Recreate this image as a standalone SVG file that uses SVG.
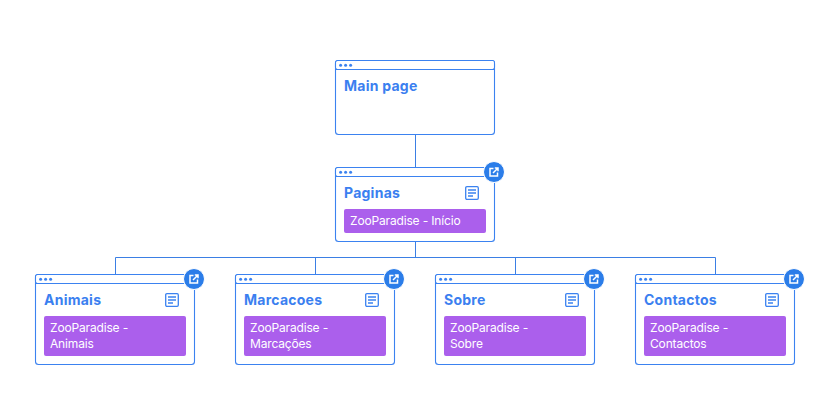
<svg xmlns="http://www.w3.org/2000/svg" xmlns:xlink="http://www.w3.org/1999/xlink" width="838" height="400" viewBox="0 0 838 400">
<style>
.card{fill:#fff;stroke:#3b82f0;stroke-width:1.1}
.hd{stroke:#3b82f0;stroke-width:1.1;fill:none}
.dot{fill:#3b82f0}
.title{font:700 14px Inter,"Liberation Sans",sans-serif;fill:#3b7ff0;letter-spacing:.25px}
.tag{fill:#ab5fec}
.lbl{font:400 12px Inter,"Liberation Sans",sans-serif;fill:#fff;letter-spacing:-.16px}
.conn{stroke:#3b7fe4;stroke-width:1;fill:none}
.doc{fill:#fff;stroke:#3b82f0;stroke-width:1.3}
.docl{stroke:#3b82f0;stroke-width:1.3;fill:none}
.badge{fill:#2b7de9;stroke:#fff;stroke-width:1}
.gl{stroke:#fff;stroke-width:1.5;fill:none}
</style>
<defs>
<g id="chrome">
<rect class="card" x="0.5" y="0.5" width="159" height="9" rx="2"/>
<path class="hd" d="M0.5 9.5H159.5"/>
<circle class="dot" cx="5.6" cy="5.2" r="1.5"/><circle class="dot" cx="10.6" cy="5.2" r="1.5"/><circle class="dot" cx="15.6" cy="5.2" r="1.5"/>
</g>
<g id="doc">
<rect class="doc" x="0.7" y="0.7" width="12.6" height="12.6" rx="1.2"/>
<path class="docl" d="M3 4H11M3 7H11M3 10H8"/>
</g>
<g id="badge">
<circle class="badge" cx="0" cy="0" r="10.5"/>
<path class="gl" d="M-0.5 -3.5H-4V4H3.5V0.5M-1 1L4 -4M0.8 -4H4V-0.8"/>
</g>
</defs>
<g id="connectors">
<path class="conn" d="M415.5 134V167M415.5 241V257.5M115.5 274V257.5H715.5V274M315.5 257.5V274M515.5 257.5V274"/>
</g>
<g id="node-main">
<rect class="card" x="335.5" y="60.5" width="159" height="74" rx="3"/>
<use xlink:href="#chrome" x="335" y="60"/>
<text class="title" x="344" y="91">Main page</text>
</g>
<g id="node-paginas">
<rect class="card" x="335.5" y="167.5" width="159" height="74" rx="3"/>
<use xlink:href="#chrome" x="335" y="167"/>
<text class="title" x="344" y="198">Paginas</text>
<use xlink:href="#doc" x="465" y="186"/>
<rect class="tag" x="344" y="209" width="142" height="24" rx="2"/>
<text class="lbl" x="350" y="225">ZooParadise - Início</text>
<use xlink:href="#badge" x="494" y="172"/>
</g>
<g id="node-animais">
<rect class="card" x="35.5" y="274.5" width="159" height="90" rx="3"/>
<use xlink:href="#chrome" x="35" y="274"/>
<text class="title" x="44" y="305">Animais</text>
<use xlink:href="#doc" x="165" y="293"/>
<rect class="tag" x="44" y="316" width="142" height="40" rx="2"/>
<text class="lbl" x="50" y="332">ZooParadise -</text><text class="lbl" x="50" y="348">Animais</text>
<use xlink:href="#badge" x="194" y="279"/>
</g>
<g id="node-marcacoes">
<rect class="card" x="235.5" y="274.5" width="159" height="90" rx="3"/>
<use xlink:href="#chrome" x="235" y="274"/>
<text class="title" x="244" y="305">Marcacoes</text>
<use xlink:href="#doc" x="365" y="293"/>
<rect class="tag" x="244" y="316" width="142" height="40" rx="2"/>
<text class="lbl" x="250" y="332">ZooParadise -</text><text class="lbl" x="250" y="348">Marcações</text>
<use xlink:href="#badge" x="394" y="279"/>
</g>
<g id="node-sobre">
<rect class="card" x="435.5" y="274.5" width="159" height="90" rx="3"/>
<use xlink:href="#chrome" x="435" y="274"/>
<text class="title" x="444" y="305">Sobre</text>
<use xlink:href="#doc" x="565" y="293"/>
<rect class="tag" x="444" y="316" width="142" height="40" rx="2"/>
<text class="lbl" x="450" y="332">ZooParadise -</text><text class="lbl" x="450" y="348">Sobre</text>
<use xlink:href="#badge" x="594" y="279"/>
</g>
<g id="node-contactos">
<rect class="card" x="635.5" y="274.5" width="159" height="90" rx="3"/>
<use xlink:href="#chrome" x="635" y="274"/>
<text class="title" x="644" y="305">Contactos</text>
<use xlink:href="#doc" x="765" y="293"/>
<rect class="tag" x="644" y="316" width="142" height="40" rx="2"/>
<text class="lbl" x="650" y="332">ZooParadise -</text><text class="lbl" x="650" y="348">Contactos</text>
<use xlink:href="#badge" x="794" y="279"/>
</g>
</svg>
